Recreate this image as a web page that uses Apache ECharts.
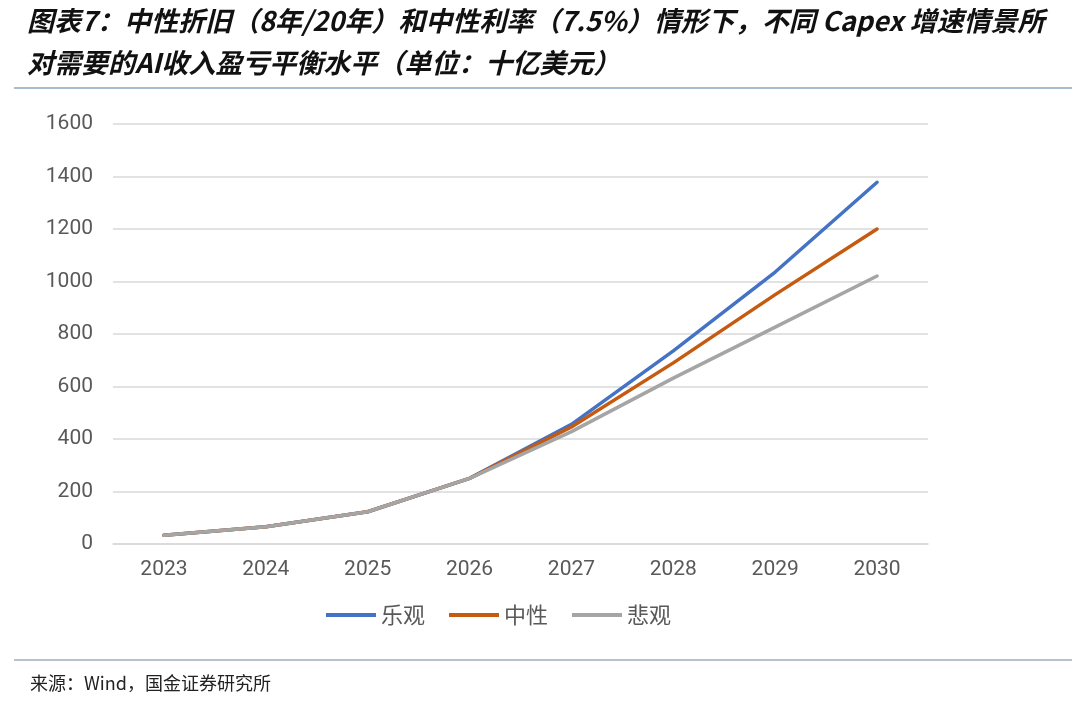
<!DOCTYPE html>
<html><head><meta charset="utf-8">
<script src="https://cdn.jsdelivr.net/npm/echarts@6/dist/echarts.min.js"></script>
<style>html,body{margin:0;padding:0;background:#fff}#c{width:1080px;height:703px}</style>
</head><body><div id="c"></div>
<script>
const years = ['2023','2024','2025','2026','2027','2028','2029','2030'];
const optimistic = [33, 66, 123, 250, 456, 736, 1036, 1378];
const neutral    = [33, 66, 123, 250, 446, 690, 950, 1200];
const pessimistic= [33, 66, 123, 250, 428, 632, 826, 1021];
const yTicks = [0, 1600, 200];
const titleLine1 = '图表7：中性折旧（8年/20年）和中性利率（7.5%）情形下，不同 Capex 增速情景所';
const titleLine2 = '对需要的AI收入盈亏平衡水平（单位：十亿美元）';
const sourceText = '来源：Wind，国金证券研究所';

const chart = echarts.init(document.getElementById('c'));
const labelFont = 'Roboto, "Noto Sans CJK SC", sans-serif';
function mk(name, data, color){
  return {name, type:'line', data, symbol:'none', smooth:false,
    lineStyle:{color, width:3.5, cap:'round'}, itemStyle:{color}};
}
chart.setOption({
  animation:false,
  backgroundColor:'#fff',
  grid:{left:113, right:152, top:124, bottom:159},
  graphic:[
    {type:'text', left:27, top:7, style:{text:titleLine1, font:'italic bold 27px "Noto Sans CJK SC"', fill:'#111'}},
    {type:'text', left:27, top:49, style:{text:titleLine2, font:'italic bold 27px "Noto Sans CJK SC"', fill:'#111'}},
    {type:'line', shape:{x1:14, y1:88, x2:1072, y2:88}, style:{stroke:'#8ba6c2', lineWidth:1.5}},
    {type:'line', shape:{x1:14, y1:660, x2:1072, y2:660}, style:{stroke:'#9fb0c0', lineWidth:1.5}},
    {type:'text', left:30, top:674, style:{text:sourceText, font:'18px "Noto Sans CJK SC"', fill:'#222'}}
  ],
  legend:{bottom:72, left:321, itemWidth:50, itemHeight:4, itemGap:24,
    icon:'rect',
    textStyle:{fontSize:22, color:'#595959', fontFamily:'"Noto Sans CJK SC"'},
    data:['乐观','中性','悲观']},
  xAxis:{type:'category', data:years, boundaryGap:true,
    axisLine:{lineStyle:{color:'#d9d9d9', width:1.5}}, axisTick:{show:false},
    axisLabel:{fontSize:21, color:'#595959', fontFamily:labelFont, margin:15}},
  yAxis:{type:'value', min:yTicks[0], max:yTicks[1], interval:yTicks[2],
    axisLine:{show:false}, axisTick:{show:false},
    splitLine:{lineStyle:{color:'#d9d9d9', width:1.5}},
    axisLabel:{fontSize:21, color:'#595959', fontFamily:labelFont, margin:20, formatter:v=>String(v)}},
  series:[mk('乐观', optimistic, '#4472C4'), mk('中性', neutral, '#C55A11'), mk('悲观', pessimistic, '#A5A5A5')]
});
</script></body></html>
